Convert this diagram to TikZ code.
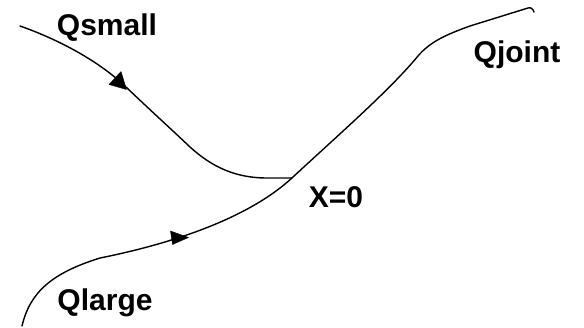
\documentclass[tikz,border=0pt]{standalone}
\usepackage{fontspec}
\setmainfont{Liberation Sans}
\begin{document}
\begin{tikzpicture}[x=1pt,y=-1pt,
  curve/.style={line width=1.4pt, line join=round, line cap=round},
  head/.style={fill=black, draw=black, line width=0.4pt, line join=round},
  lbl/.style={font=\fontsize{30}{32}\selectfont\bfseries, inner sep=0pt, anchor=base}]
\useasboundingbox (0,0) rectangle (584,327);
% Qsmall curve
\draw[curve] (20,26) .. controls (60,40) and (100,62) .. (126,87)
  .. controls (150,110) and (170,128) .. (190,147)
  .. controls (212,167) and (235,177.5) .. (265,178) -- (292,178);
% Qlarge -> Qjoint curve
\draw[curve] (22,326) .. controls (30,292) and (52,273) .. (100,258)
  .. controls (160,246) and (245,222) .. (293,177)
  .. controls (335,138) and (390,90) .. (418,56)
  .. controls (430,42) and (445,35) .. (470,26)
  -- (528,8) .. controls (531,7) and (533,9) .. (534,12);
% arrowheads
\fill[head] (109,84.5) -- (121,71.5) -- (126.5,89.5) -- cycle;
\fill[head] (170.5,231) -- (172.5,244.5) -- (188.5,237.5) -- cycle;
% labels
\node[lbl] (qsmall) at (107,35) {Qsmall};
\node[lbl] (qjoint) at (517,62) {Qjoint};
\node[lbl] (x0) at (336,207) {X=0};
\node[lbl] (qlarge) at (105,310) {Qlarge};
\end{tikzpicture}
\end{document}
